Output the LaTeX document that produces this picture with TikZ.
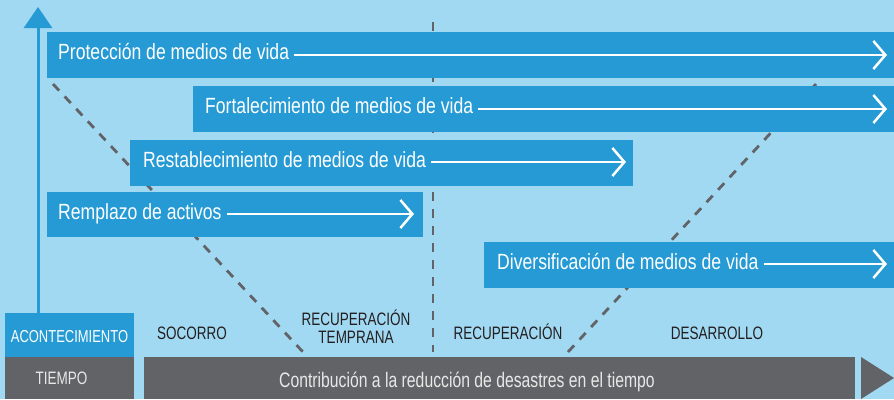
\documentclass[tikz,border=0pt]{standalone}
\usepackage{fontspec}
\setmainfont{Liberation Sans}[FakeStretch=0.8]
\newfontfamily\labfont{Liberation Sans}[FakeStretch=0.75]
\usetikzlibrary{arrows.meta}
\definecolor{bgblue}{HTML}{A1D9F3}
\definecolor{barblue}{HTML}{259AD4}
\definecolor{bargray}{HTML}{626366}
\definecolor{txtdark}{HTML}{231F20}
\definecolor{txtlight}{HTML}{E8E8E8}
\begin{document}
\begin{tikzpicture}[x=1pt,y=-1pt,
  bar/.style={fill=barblue, draw=none},
  graybar/.style={fill=bargray, draw=none},
  bartext/.style={text=white, font=\fontsize{22}{24}\selectfont, inner sep=0pt, anchor=base west},
  phase/.style={text=txtdark, font=\labfont\fontsize{18}{18}\selectfont, inner sep=0pt, align=center, anchor=base},
  timetext/.style={text=txtlight, font=\labfont\fontsize{18}{18}\selectfont, inner sep=0pt, anchor=base},
  whitearrow/.style={draw=white, line width=2.5pt, -{Straight Barb[length=12pt, width=28pt, line width=2.5pt]}, shorten <=5pt},
  phaseline/.style={draw=bargray, line width=2.8pt, dash pattern=on 9pt off 8pt},
  axis/.style={draw=barblue, line width=3pt, -{Triangle[length=21pt, width=28pt]}},
]
\useasboundingbox (0,0) rectangle (894,399);
\fill[bgblue] (0,0) rectangle (894,399);

% phase separators
\coordinate (d1a) at (53,84);
\coordinate (d1b) at (303,352);
\coordinate (d2a) at (433,22);
\coordinate (d2b) at (433,352);
\coordinate (d3a) at (568,352);
\coordinate (d3b) at (816,84);
\draw[phaseline] (d1a) -- (d1b);
\draw[phaseline] (d2a) -- (d2b);
\draw[phaseline] (d3a) -- (d3b);

% bars
\fill[bar] (47,32) rectangle (894,78);
\fill[bar] (193,86) rectangle (894,132);
\fill[bar] (130,140) rectangle (633,186);
\fill[bar] (47,192) rectangle (423,237);
\fill[bar] (484,242) rectangle (894,288);

\node[bartext] (t1) at (58,59) {Protección de medios de vida};
\node[bartext] (t2) at (205,113) {Fortalecimiento de medios de vida};
\node[bartext] (t3) at (143,167) {Restablecimiento de medios de vida};
\node[bartext] (t4) at (58,219) {Remplazo de activos};
\node[bartext] (t5) at (497,269) {Diversificación de medios de vida};

\coordinate (e1) at (887,55);
\coordinate (e2) at (887,109);
\coordinate (e3) at (626,162);
\coordinate (e4) at (414,214);
\coordinate (e5) at (887,264);
\draw[whitearrow] (t1.east |- e1) -- (e1);
\draw[whitearrow] (t2.east |- e2) -- (e2);
\draw[whitearrow] (t3.east |- e3) -- (e3);
\draw[whitearrow] (t4.east |- e4) -- (e4);
\draw[whitearrow] (t5.east |- e5) -- (e5);

% event / time boxes
\fill[bar] (5,313) rectangle (134,357);
\fill[graybar] (5,357) rectangle (134,399);
\fill[graybar] (144,357) rectangle (855,399);
\fill[bargray] (861,357) -- (894,378) -- (861,399) -- cycle;

\coordinate (ax0) at (38,313);
\coordinate (ax1) at (38,7);
\draw[axis] (ax0) -- (ax1);

\node[timetext, text=white, font=\labfont\fontsize{17.3}{18}\selectfont] (ev) at (69.5,342) {ACONTECIMIENTO};
\node[timetext] (ti) at (61.5,384) {TIEMPO};
\node[timetext, font=\labfont\fontsize{21}{22}\selectfont] (co) at (467,387) {Contribución a la reducción de desastres en el tiempo};

\node[phase] (p1) at (192,339) {SOCORRO};
\node[phase] (p2) at (356,343) {RECUPERACIÓN\\TEMPRANA};
\node[phase] (p3) at (508,339) {RECUPERACIÓN};
\node[phase] (p4) at (717,339) {DESARROLLO};
\end{tikzpicture}
\end{document}
